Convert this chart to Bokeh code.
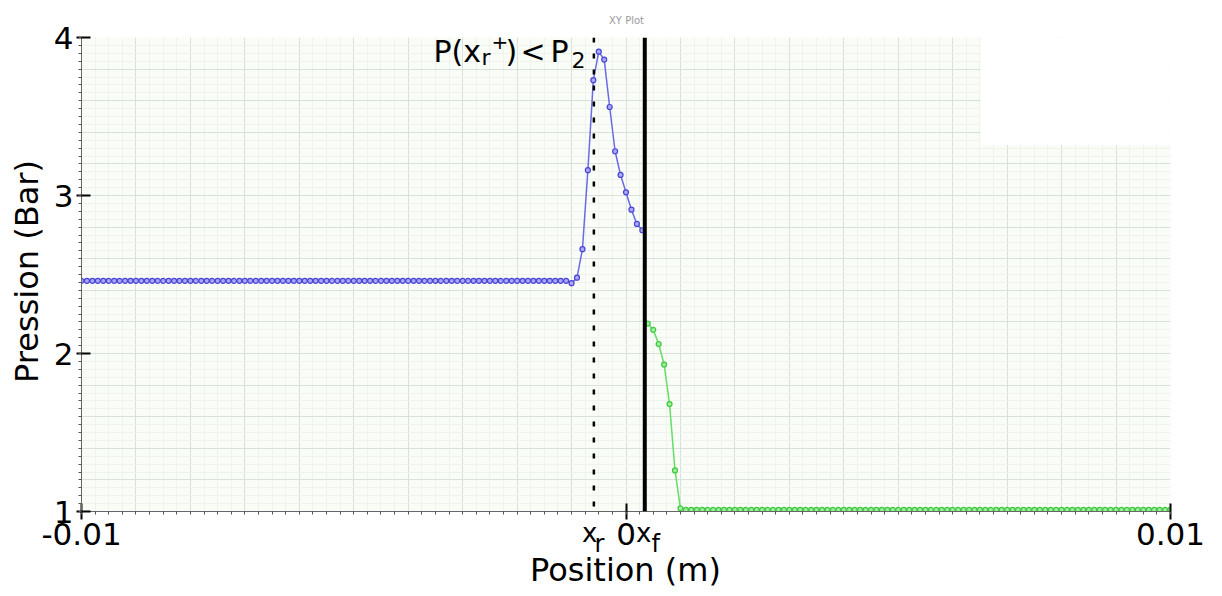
import numpy as np
from bokeh.plotting import figure
from bokeh.models import Range1d, FixedTicker, SingleIntervalTicker, Label, Span, BoxAnnotation
from bokeh.embed import file_html
from bokeh.resources import INLINE

# ---------------- data ----------------
blue_x = [round(-0.01 + k * 1e-4, 4) for k in range(104)]
blue_y = [
    2.46, 2.46, 2.46, 2.46, 2.46, 2.46, 2.46, 2.46, 2.46, 2.46,
    2.46, 2.46, 2.46, 2.46, 2.46, 2.46, 2.46, 2.46, 2.46, 2.46,
    2.46, 2.46, 2.46, 2.46, 2.46, 2.46, 2.46, 2.46, 2.46, 2.46,
    2.46, 2.46, 2.46, 2.46, 2.46, 2.46, 2.46, 2.46, 2.46, 2.46,
    2.46, 2.46, 2.46, 2.46, 2.46, 2.46, 2.46, 2.46, 2.46, 2.46,
    2.46, 2.46, 2.46, 2.46, 2.46, 2.46, 2.46, 2.46, 2.46, 2.46,
    2.46, 2.46, 2.46, 2.46, 2.46, 2.46, 2.46, 2.46, 2.46, 2.46,
    2.46, 2.46, 2.46, 2.46, 2.46, 2.46, 2.46, 2.46, 2.46, 2.46,
    2.46, 2.46, 2.46, 2.46, 2.46, 2.46, 2.46, 2.46, 2.46, 2.46,
    2.445, 2.48, 2.66, 3.16, 3.73, 3.91, 3.86, 3.56, 3.28, 3.13,
    3.02, 2.91, 2.82, 2.78,
]
green_x = [round(0.0004 + k * 1e-4, 4) for k in range(97)]
green_y = [
    2.19, 2.15, 2.06, 1.93, 1.68, 1.26, 1.02,
    1.01, 1.01, 1.01, 1.01, 1.01, 1.01, 1.01, 1.01, 1.01, 1.01,
    1.01, 1.01, 1.01, 1.01, 1.01, 1.01, 1.01, 1.01, 1.01, 1.01,
    1.01, 1.01, 1.01, 1.01, 1.01, 1.01, 1.01, 1.01, 1.01, 1.01,
    1.01, 1.01, 1.01, 1.01, 1.01, 1.01, 1.01, 1.01, 1.01, 1.01,
    1.01, 1.01, 1.01, 1.01, 1.01, 1.01, 1.01, 1.01, 1.01, 1.01,
    1.01, 1.01, 1.01, 1.01, 1.01, 1.01, 1.01, 1.01, 1.01, 1.01,
    1.01, 1.01, 1.01, 1.01, 1.01, 1.01, 1.01, 1.01, 1.01, 1.01,
    1.01, 1.01, 1.01, 1.01, 1.01, 1.01, 1.01, 1.01, 1.01, 1.01,
    1.01, 1.01, 1.01, 1.01, 1.01, 1.01, 1.01, 1.01, 1.01, 1.01,
]
x_r = -0.00059
x_f = 0.000345

x_ticks = [-0.01, 0, 0.01]
x_tick_labels = {-0.01: "-0.01", 0: "0", 0.01: "0.01"}
y_ticks = [1, 2, 3, 4]

FONT = "DejaVu Sans"

# ---------------- figure ----------------
p = figure(width=1222, height=596, output_backend="svg", toolbar_location=None,
           x_range=Range1d(-0.01, 0.01), y_range=Range1d(1, 4),
           min_border_left=81, min_border_right=52, min_border_top=37, min_border_bottom=85)
p.background_fill_color = "#f9fcf7"
p.border_fill_color = "white"
p.outline_line_color = None

p.xgrid.ticker = SingleIntervalTicker(interval=0.001, num_minor_ticks=4)
p.ygrid.ticker = SingleIntervalTicker(interval=0.2, num_minor_ticks=4)
for g in (p.xgrid, p.ygrid):
    g.grid_line_color = "#d8e2d8"
    g.grid_line_width = 1
    g.minor_grid_line_color = "#eef4ec"
    g.minor_grid_line_width = 1

xminor = [round(-0.01 + k * 0.00025, 5) for k in range(81)]
yminor = [round(1 + k * 0.05, 2) for k in range(61)]
p.xaxis.ticker = FixedTicker(ticks=x_ticks, minor_ticks=xminor)
p.xaxis.major_label_overrides = x_tick_labels
p.yaxis.ticker = FixedTicker(ticks=y_ticks, minor_ticks=yminor)

for ax in (p.xaxis, p.yaxis):
    ax.axis_line_color = "#666666"
    ax.axis_line_width = 1
    ax.major_tick_line_color = "black"
    ax.major_tick_line_width = 2
    ax.minor_tick_line_color = "#555555"
    ax.minor_tick_in = 0
    ax.minor_tick_out = 3
    ax.major_label_text_font = FONT
    ax.major_label_text_font_size = "31px"
    ax.major_label_text_color = "black"
p.xaxis.major_tick_in = 8
p.xaxis.major_tick_out = 8
p.xaxis.major_label_standoff = 3
p.yaxis.major_tick_in = 9
p.yaxis.major_tick_out = 5
p.yaxis.major_label_standoff = 3

# white patch in upper right
p.add_layout(BoxAnnotation(left=0.00651, right=0.01, bottom=3.32, top=4,
                           fill_color="white", fill_alpha=1.0, line_color=None))

# series
p.line(blue_x, blue_y, line_color="#6a6ae6", line_width=1.5)
p.scatter(blue_x, blue_y, marker="circle", size=5, line_color="#4a44d4",
          fill_color="#a9a9f7", line_width=1.2)
p.line(green_x, green_y, line_color="#66dd66", line_width=1.5)
p.scatter(green_x, green_y, marker="circle", size=5, line_color="#3fc83f",
          fill_color="#9cee9c", line_width=1.2)

# vertical markers
p.add_layout(Span(location=x_r, dimension="height", line_color="black",
                  line_width=2.5, line_dash="5 11"))
p.add_layout(Span(location=x_f, dimension="height", line_color="black", line_width=4))

# ---------------- texts (canvas pixel positions) ----------------
def lab(text, px, py, size, align="left", color="black", angle=0, place="center"):
    lbl = Label(x=px, y=py, x_units="canvas", y_units="canvas", text=text,
                text_font=FONT, text_font_size=f"{size}px", text_color=color,
                text_align=align, text_baseline="alphabetic", angle=angle)
    if place == "center":
        p.add_layout(lbl)
    else:
        p.add_layout(lbl, place)

lab("Position (m)", 625, 569, 32, align="center", place="below")
lab("Pression (Bar)", 26, 271, 32, align="center", angle=np.pi / 2, place="left")
lab("XY Plot", 626, 20, 10, align="center", color="#9a9a9a", place="above")

# x_r and x_f
lab("x", 581.5, 532, 26, place="right")
lab("r", 594, 543, 24, place="right")
lab("x", 635.5, 532, 26, place="right")
lab("f", 651, 543, 24, place="right")

# P(x_r^+) < P_2
lab("P(x", 433, 51, 30)
lab("r", 481, 57, 22)
lab("+", 491, 41, 20)
lab(")", 505, 51, 30)
lab("<", 520, 51, 30)
lab("P", 550, 51, 30)
lab("2", 571, 59, 22)

open("out.html", "w").write(file_html(p, INLINE))
